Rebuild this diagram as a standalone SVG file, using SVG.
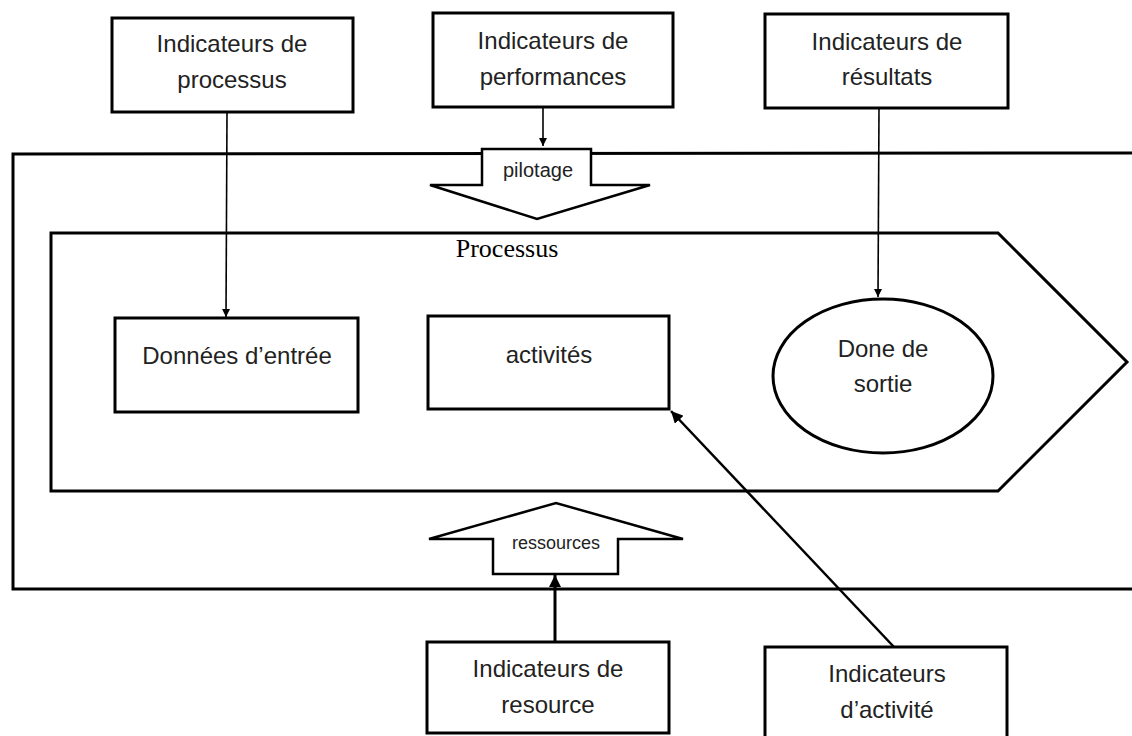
<svg xmlns="http://www.w3.org/2000/svg" width="1132" height="736" viewBox="0 0 1132 736">
<style>
.box{fill:#fff;stroke:#000;stroke-width:3}
.shape{fill:none;stroke:#000;stroke-width:3}
.blk{fill:#fff;stroke:#000;stroke-width:2.5}
.t{font-family:"Liberation Sans",Arial,sans-serif;font-size:24px;fill:#222;text-anchor:middle}
.s{font-family:"Liberation Sans",Arial,sans-serif;fill:#222;text-anchor:middle}
.thin{fill:none;stroke:#000;stroke-width:1.6}
.thick{fill:none;stroke:#000;stroke-width:3}
.mid{fill:none;stroke:#000;stroke-width:2.5}
</style>
<defs>
<marker id="ah" viewBox="0 0 10 10" refX="10" refY="5" markerWidth="8" markerHeight="8" markerUnits="userSpaceOnUse" orient="auto"><path d="M0,0 L10,5 L0,10 z" fill="#000"/></marker>
<marker id="ah2" viewBox="0 0 10 10" refX="10" refY="5" markerWidth="12" markerHeight="12" markerUnits="userSpaceOnUse" orient="auto"><path d="M0,0 L10,5 L0,10 z" fill="#000"/></marker>
</defs>
<rect width="1132" height="736" fill="#fff"/>
<g id="frame">
<path class="shape" d="M1132,153 L13,154 L13,589 L1132,589"/>
</g>
<g id="processus">
<path class="shape" d="M51,233 L998,233 L1127,362 L998,491 L51,491 Z"/>
<text x="507" y="257" font-family="'Liberation Serif','Times New Roman',serif" font-size="26" text-anchor="middle" fill="#000">Processus</text>
</g>
<g id="pilotage">
<path class="blk" d="M482,149 L591,149 L591,185 L650,185 L537,219 L430,185 L482,185 Z"/>
<text class="s" x="538" y="177" font-size="20">pilotage</text>
</g>
<g id="ressources">
<path class="blk" d="M493,574 L618,574 L618,539 L683,539 L556,503 L429,539 L493,539 Z"/>
<text class="s" x="556" y="549" font-size="18">ressources</text>
</g>
<g id="ind-processus">
<rect class="box" x="112" y="18" width="241" height="94"/>
<text class="t" x="232" y="52">Indicateurs de</text>
<text class="t" x="232" y="88">processus</text>
</g>
<g id="ind-performances">
<rect class="box" x="433" y="13" width="240" height="94"/>
<text class="t" x="553" y="49">Indicateurs de</text>
<text class="t" x="553" y="85">performances</text>
</g>
<g id="ind-resultats">
<rect class="box" x="765" y="14" width="243" height="94"/>
<text class="t" x="887" y="50">Indicateurs de</text>
<text class="t" x="887" y="85">résultats</text>
</g>
<g id="donnees-entree">
<rect class="box" x="115" y="318" width="243" height="94"/>
<text class="t" x="237" y="364">Données d’entrée</text>
</g>
<g id="activites">
<rect class="box" x="428" y="316" width="241" height="93"/>
<text class="t" x="549" y="363">activités</text>
</g>
<g id="done-sortie">
<ellipse class="box" cx="883" cy="376" rx="110" ry="77"/>
<text class="t" x="883" y="357">Done de</text>
<text class="t" x="883" y="392">sortie</text>
</g>
<g id="ind-resource">
<rect class="box" x="427" y="642" width="242" height="91"/>
<text class="t" x="548" y="677">Indicateurs de</text>
<text class="t" x="548" y="713">resource</text>
</g>
<g id="ind-activite">
<rect class="box" x="765" y="647" width="242" height="100"/>
<text class="t" x="887" y="682">Indicateurs</text>
<text class="t" x="887" y="718">d’activité</text>
</g>
<g id="connectors">
<line class="thin" x1="227" y1="112" x2="226" y2="317" marker-end="url(#ah)"/>
<line class="thin" x1="543" y1="107" x2="543" y2="146" marker-end="url(#ah)"/>
<line class="thin" x1="879" y1="108" x2="878" y2="297" marker-end="url(#ah)"/>
<line class="thick" x1="555" y1="642" x2="555" y2="575" marker-end="url(#ah2)"/>
<line class="mid" x1="894" y1="647" x2="671" y2="411" marker-end="url(#ah2)"/>
</g>
</svg>
